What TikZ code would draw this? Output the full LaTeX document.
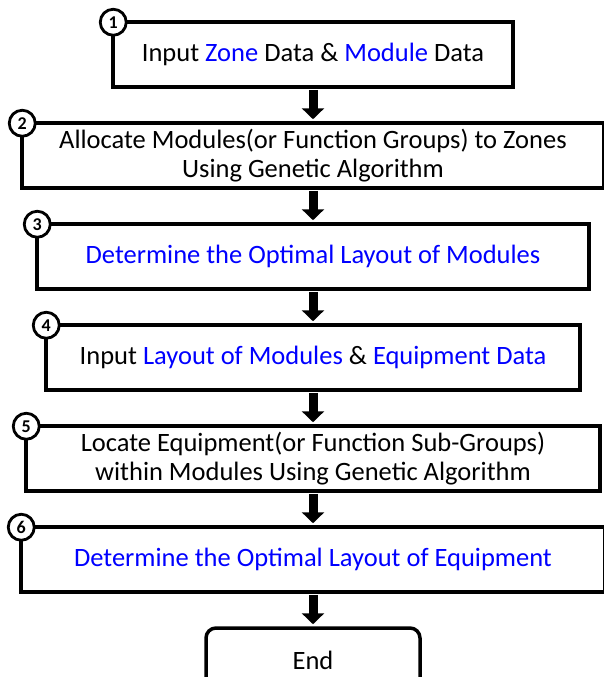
\documentclass[tikz,border=0pt]{standalone}
\usepackage{fontspec}
\setmainfont{Carlito}
\usetikzlibrary{positioning,arrows.meta}

\begin{document}
\begin{tikzpicture}[
    x=1pt, y=1pt,
    node distance=32.5pt,
    box/.style={rectangle, draw, line width=3.5pt, fill=white, minimum height=65pt, align=center, inner sep=0pt, font=\fontsize{26.5}{29}\selectfont},
    numcirc/.style={circle, draw, line width=2.8pt, fill=white, minimum size=26pt, inner sep=0pt, font=\bfseries\fontsize{18}{18}\selectfont},
    arrow/.style={line width=9pt, -{Triangle[width=22pt,length=11pt]}, shorten <=1pt, shorten >=2pt}
]
\useasboundingbox (0,0) rectangle (604,-677);
\clip (0,0) rectangle (604,-677);

% Step 1: input data
\node[box, minimum width=400pt] (input1) at (313,-54.5) {Input \textcolor{blue}{Zone} Data \& \textcolor{blue}{Module} Data};

% Step 2: allocation by GA
\node[box, minimum width=582pt, below=of input1] (alloc) {Allocate Modules(or Function Groups) to Zones\\Using Genetic Algorithm};

% Step 3: module layout
\node[box, minimum width=552pt, below=of alloc] (modlayout) {\textcolor{blue}{Determine the Optimal Layout of Modules}};

% Step 4: input layout and equipment
\node[box, minimum width=534pt, below=of modlayout] (input2) {Input \textcolor{blue}{Layout of Modules} \& \textcolor{blue}{Equipment Data}};

% Step 5: location by GA
\node[box, minimum width=574pt, below=of input2] (locate) {Locate Equipment(or Function Sub-Groups)\\within Modules Using Genetic Algorithm};

% Step 6: equipment layout
\node[box, minimum width=584pt, below=of locate] (eqlayout) {\textcolor{blue}{Determine the Optimal Layout of Equipment}};

% End
\node[box, rounded corners=10pt, minimum width=214pt, below=of eqlayout] (finish) {End};

% Step numbers
\foreach \n/\b in {1/input1, 2/alloc, 3/modlayout, 4/input2, 5/locate, 6/eqlayout}
    \node[numcirc] (num\n) at ([shift={(2pt,-2pt)}]\b.north west) {\n};

% Arrows
\draw[arrow] (input1) -- (alloc);
\draw[arrow] (alloc) -- (modlayout);
\draw[arrow] (modlayout) -- (input2);
\draw[arrow] (input2) -- (locate);
\draw[arrow] (locate) -- (eqlayout);
\draw[arrow] (eqlayout) -- (finish);

\end{tikzpicture}
\end{document}
